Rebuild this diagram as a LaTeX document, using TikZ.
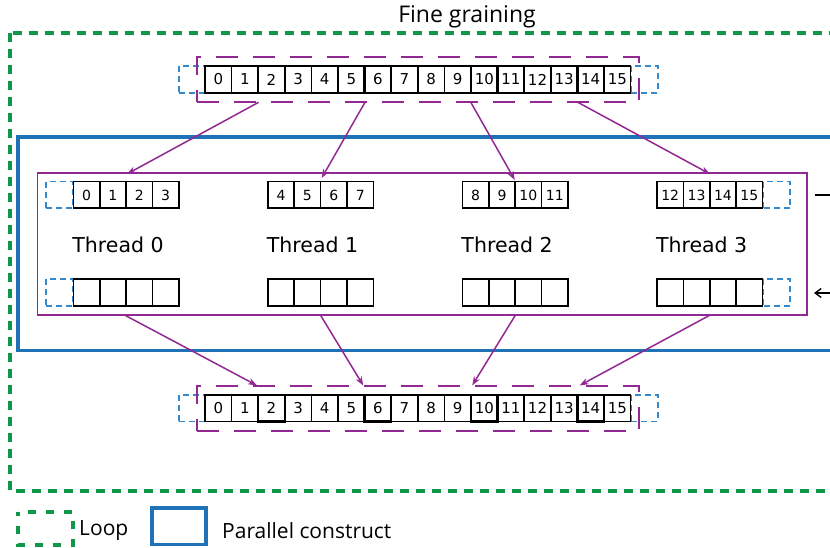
\documentclass[tikz,border=0pt]{standalone}
\usepackage{fontspec}
\setmainfont{DejaVu Sans}
\newfontfamily\captionfont{Open Sans}
\usetikzlibrary{arrows.meta,calc}

\definecolor{loopgreen}{RGB}{16,150,72}
\definecolor{parblue}{RGB}{31,114,184}
\definecolor{ghostblue}{RGB}{52,136,204}
\definecolor{chunkpurple}{RGB}{146,40,146}

\tikzset{
  arraycell/.style={draw=black, line width=1.6pt, minimum width=26.6pt, minimum height=26.6pt,
    inner sep=0pt, outer sep=0pt, font=\fontsize{15}{17}\selectfont},
  threadcell/.style={draw=black, line width=1.6pt, minimum width=26.4pt, minimum height=26.6pt,
    inner sep=0pt, outer sep=0pt, font=\fontsize{14}{16}\selectfont},
  ghostcell/.style={draw=ghostblue, line width=1.6pt, dash pattern=on 6pt off 4pt,
    minimum width=26.6pt, minimum height=26.6pt, inner sep=0pt, outer sep=0pt},
  boldcell/.style={line width=2.3pt},
  chunkframe/.style={draw=chunkpurple, line width=1.9pt, dash pattern=on 22pt off 15pt,
    inner sep=0pt, outer sep=0pt},
  threadframe/.style={draw=chunkpurple, line width=1.9pt, inner sep=0pt, outer sep=0pt},
  looprect/.style={draw=loopgreen, line width=4pt, dash pattern=on 9pt off 7pt},
  parrect/.style={draw=parblue, line width=3.2pt},
  flow/.style={draw=chunkpurple, line width=1.5pt, -{Stealth[length=9pt,width=6.5pt]}},
  sidearrow/.style={draw=black, line width=1.4pt},
  threadlabel/.style={font=\fontsize{20.5}{23}\selectfont, inner sep=0pt},
  caption/.style={font=\captionfont\fontsize{21}{24}\selectfont, inner sep=0pt},
}

\begin{document}
\begin{tikzpicture}[x=1pt,y=-1pt]
\useasboundingbox (0,0) rectangle (830,548);
\clip (0,0) rectangle (830,548);

% fine-grained loop and parallel region
\draw[looprect] (10,33) rectangle (870,491);
\draw[parrect] (18,137) rectangle (870,350.5);
\node[caption, font=\captionfont\fontsize{23}{26}\selectfont] (title) at (467,17) {Fine graining};

% input array
\node[ghostcell] (tgl) at (192.2,79.5) {};
\node[ghostcell] (tgr) at (644.5,79.5) {};
\foreach \i in {0,...,15}
  \node[arraycell] (t\i) at ({205+26.6*(\i+0.5)},79.5) {\i};
\foreach \i in {2,6,10,14}
  \draw[boldcell] (t\i.north west) rectangle (t\i.south east);
\node[chunkframe, minimum width=442pt, minimum height=45pt] (tframe) at (417.9,79.8) {};

% output array
\node[ghostcell] (bgl) at (192.2,408.3) {};
\node[ghostcell] (bgr) at (644.5,408.3) {};
\foreach \i in {0,...,15}
  \node[arraycell] (b\i) at ({205+26.6*(\i+0.5)},408.3) {\i};
\foreach \i in {2,6,10,14}
  \draw[boldcell] (b\i.north west) rectangle (b\i.south east);
\node[chunkframe, minimum width=442pt, minimum height=44.7pt] (bframe) at (417.9,408.4) {};

% threads
\node[threadframe, minimum width=769.8pt, minimum height=141.7pt] (threads) at (422.4,244.15) {};
\node[ghostcell] (g0u) at (59.3,195) {};
\node[ghostcell] (g0l) at (59.3,292.5) {};
\node[ghostcell] (g3u) at (776.9,195) {};
\node[ghostcell] (g3l) at (776.9,292.5) {};
\foreach \k in {0,...,3} {
  \foreach \j in {0,...,3} {
    \pgfmathtruncatemacro{\n}{4*\k+\j}
    \node[threadcell] (u\n) at ({73.3+194.55*\k+26.4*(\j+0.5)},195) {\n};
    \node[threadcell] (l\n) at ({73.3+194.55*\k+26.4*(\j+0.5)},292.5) {};
  }
  \node[threadlabel] (lab\k) at ({118+194.55*\k},245) {Thread \k};
}

% distribution of chunks to threads
\coordinate (s0) at (258.6,102.3);
\coordinate (s1) at (365,102.3);
\coordinate (s2) at (470.8,102.3);
\coordinate (s3) at (577.8,102.3);
\coordinate (e0) at (127,174);
\coordinate (e1) at (321.7,178);
\coordinate (e2) at (514.8,180);
\coordinate (e3) at (710,174);
\foreach \k in {0,...,3}
  \draw[flow] (s\k) -- (e\k);

% collection of results
\coordinate (r0) at (124.5,315);
\coordinate (r1) at (320.4,315);
\coordinate (r2) at (515.5,315);
\coordinate (r3) at (710.2,315);
\coordinate (c0) at (257,385.5);
\coordinate (c1) at (363.3,385.5);
\coordinate (c2) at (472.2,385.5);
\coordinate (c3) at (579.6,385.5);
\foreach \k in {0,...,3}
  \draw[flow] (r\k) -- (c\k);

% halo exchange arrows on the right
\coordinate (hx0) at (815,195);
\coordinate (hx1) at (850,195);
\coordinate (hy0) at (814,293);
\coordinate (hy1) at (850,293);
\draw[sidearrow] (hx0) -- (hx1);
\draw[sidearrow, {Straight Barb[length=6pt,width=9pt]}-] (hy0) -- (hy1);

% legend
\draw[looprect, dash pattern=on 8pt off 10pt, dash phase=4pt] (18,512) rectangle (73,545);
\node[caption, anchor=west] (looptext) at (79,531) {Loop};
\draw[parrect] (152,508) rectangle (206,544.5);
\node[caption, anchor=west] (partext) at (222,531) {Parallel construct};
\end{tikzpicture}
\end{document}
